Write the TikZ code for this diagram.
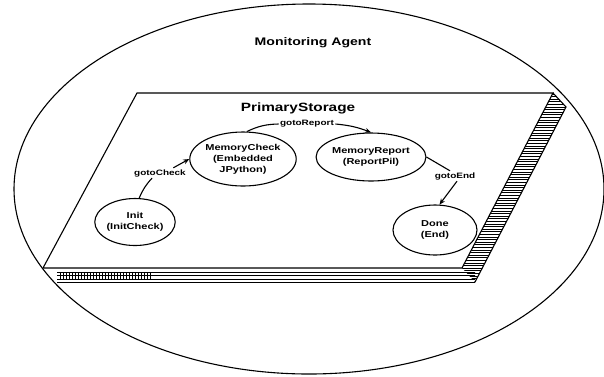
\documentclass[tikz,border=0pt]{standalone}
\usepackage{fontspec}
\newfontfamily\lbl[FakeStretch=1.28]{Liberation Sans}
\usetikzlibrary{shapes.geometric,arrows.meta}
\begin{document}
\begin{tikzpicture}[x=1pt,y=-1pt,line width=1.1pt,
  st/.style={draw,ellipse,line width=1.1pt,inner sep=0pt,align=center,
    font=\lbl\bfseries\fontsize{8.6}{11}\selectfont},
  lab/.style={inner sep=1pt,font=\lbl\bfseries\fontsize{7.8}{9}\selectfont},
  arr/.style={-{Stealth[length=6pt,width=5pt]}},
  hatch/.style={line width=0.9pt}]
\useasboundingbox (0,0) rectangle (604,376);
% outer ellipse
\draw (309,189) ellipse [x radius=295,y radius=185];
\node[font=\lbl\bfseries\fontsize{11}{13}\selectfont] (agent) at (313,43) {Monitoring Agent};
% slab side (hatched)
\begin{scope}
  \clip (553,93) -- (566,107) -- (475,282) -- (462,268) -- cycle;
  \foreach \y in {94,96.6,...,284} \draw[hatch] (440,\y) -- (580,\y);
\end{scope}
\draw (553,93) -- (566,107) -- (475,282);
% slab front strip
\begin{scope}
  \clip (57,271.5) rectangle (475,282.5);
  \foreach \y in {272.5,275.8,279,282} \draw[line width=0.8pt] (50,\y) -- (480,\y);
  \foreach \x in {60,63,...,150} \draw[line width=0.7pt] (\x,272) -- (\x,279);
\end{scope}
% plane
\draw[fill=white] (137,93) -- (553,93) -- (462,268) -- (43,268) -- cycle;
\node[font=\lbl\bfseries\fontsize{12}{14}\selectfont] (ps) at (298,108) {PrimaryStorage};
% states
\node[st,minimum width=77pt,minimum height=47pt] (init) at (135,222) {Init\\(InitCheck)};
\node[st,minimum width=98pt,minimum height=54pt] (mc) at (243,159) {MemoryCheck\\(Embedded\\JPython)};
\node[st,minimum width=104pt,minimum height=48pt] (mr) at (371,157) {MemoryReport\\(ReportPil)};
\node[st,minimum width=84pt,minimum height=50pt] (done) at (435,230) {Done\\(End)};
% labels
\node[lab] (gc) at (160,173) {gotoCheck};
\node[lab] (gr) at (307,124) {gotoReport};
\node[lab] (ge) at (455,176) {gotoEnd};
% transitions
\draw (init.80) to[bend left=10] ([xshift=-8pt]gc.south);
\draw[arr] ([xshift=-14pt]gc.north east) -- (mc.west);
\draw (mc.82) to[bend left=12] (gr.west);
\draw[arr] (gr.east) to[bend left=8] (mr.north);
\draw (mr.east) -- ([xshift=-5pt]ge.north);
\draw[arr] ([xshift=2pt]ge.south) -- (done.80);
\end{tikzpicture}
\end{document}
